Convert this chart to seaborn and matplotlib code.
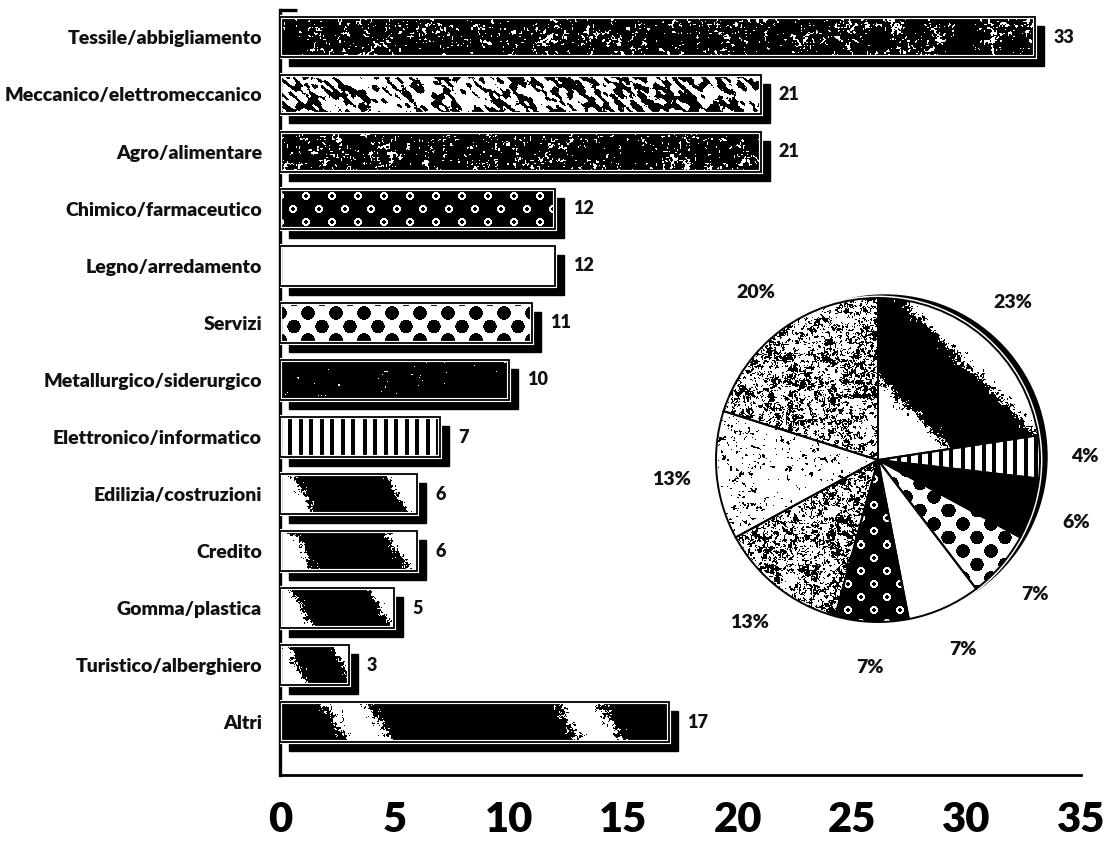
import numpy as np
import pandas as pd
import matplotlib
matplotlib.use("Agg")
import matplotlib.pyplot as plt
import matplotlib.patheffects as pe
import seaborn as sns
from matplotlib.transforms import ScaledTranslation
from matplotlib.patches import Circle

# ---------------------------------------------------------------- data
sectors = [
    "Tessile/abbigliamento",
    "Meccanico/elettromeccanico",
    "Agro/alimentare",
    "Chimico/farmaceutico",
    "Legno/arredamento",
    "Servizi",
    "Metallurgico/siderurgico",
    "Elettronico/informatico",
    "Edilizia/costruzioni",
    "Credito",
    "Gomma/plastica",
    "Turistico/alberghiero",
    "Altri",
]
counts = [33, 21, 21, 12, 12, 11, 10, 7, 6, 6, 5, 3, 17]
x_ticks = [0, 5, 10, 15, 20, 25, 30, 35]

# fill texture of every bar
bar_fill = ["speckle_dark", "blobs", "speckle_dark", "rings", "plain", "dots",
            "dark", "vstripes", "diag", "diag", "diag", "diag", "diag_long"]

# pie: the first eight sectors on their own, the smaller ones grouped together
n_single = 8
pie_names = sectors[:n_single] + ["Altri settori"]
pie_values = counts[:n_single] + [sum(counts[n_single:])]
pie_fill = ["speckle_light", "sparse", "speckle_mid", "rings", "plain", "dots",
            "solid", "vstripes", "diag_pie"]

# ---------------------------------------------------------------- textures
def _hash(ix, iy, seed):
    v = np.sin(ix * 12.9898 + iy * 78.233 + seed * 4.1414) * 43758.5453
    return v - np.floor(v)


def vnoise(x, y, seed):
    x0, y0 = np.floor(x), np.floor(y)
    fx, fy = x - x0, y - y0
    fx = fx * fx * (3 - 2 * fx)
    fy = fy * fy * (3 - 2 * fy)
    a = _hash(x0, y0, seed)
    b = _hash(x0 + 1, y0, seed)
    c = _hash(x0, y0 + 1, seed)
    d = _hash(x0 + 1, y0 + 1, seed)
    return (a * (1 - fx) * (1 - fy) + b * fx * (1 - fy)
            + c * (1 - fx) * fy + d * fx * fy)


def fbm(X, Y, seed, scales=(1.5, 4.0, 11.0), weights=(0.45, 0.35, 0.2)):
    out = np.zeros_like(X)
    for k, (s, w) in enumerate(zip(scales, weights)):
        out += w * vnoise(X / s, Y / s, seed + 7 * k)
    return out


def _grid_dist(X, Y, sx, sy, y0):
    Yr = Y - y0
    r = np.round(Yr / sy)
    off = (r % 2) * sx / 2
    cx = np.round((X - off) / sx) * sx + off
    cy = r * sy
    return np.hypot(X - cx, Yr - cy)


def _bands(t, lo, width, period):
    return ((t - lo) % period) >= width  # True = white


def texture(kind, X, Y, seed):
    """Grey-level image (1 = white, 0 = black) in pixel coordinates."""
    width_px = X.shape[1]
    if kind == "plain":
        return np.ones_like(X)
    if kind == "solid":
        return np.zeros_like(X)
    if kind == "speckle_dark":
        return (fbm(X, Y, seed) > 0.67).astype(float)
    if kind == "dark":
        return (fbm(X, Y, seed, scales=(1.0, 3.0, 9.0)) > 0.76).astype(float)
    if kind == "speckle_light":
        return (fbm(X, Y, seed, scales=(1.2, 3.5, 12.0)) < 0.54).astype(float)
    if kind == "speckle_mid":
        return (fbm(X, Y, seed, scales=(1.2, 3.5, 10.0)) < 0.53).astype(float)
    if kind == "sparse":
        return (fbm(X, Y, seed, scales=(1.0, 3.0, 8.0)) < 0.67).astype(float)
    if kind == "blobs":
        u, v = (X + 0.8 * Y) / 9.0, (X - 1.2 * Y) / 4.5
        n = 0.8 * vnoise(u, v, seed) + 0.2 * vnoise(X / 1.5, Y / 1.5, seed + 3)
        return (n < 0.54).astype(float)
    if kind == "rings":
        d = _grid_dist(X, Y, 26.0, 13.0, 7.0)
        return ((d > 2.0) & (d < 4.0)).astype(float)
    if kind == "dots":
        d = _grid_dist(X, Y, 28.0, 13.5, 10.0)
        return (d >= 6.8).astype(float)
    if kind == "vstripes":
        return (((X + 2.0) % 10.5) >= 3.8).astype(float)
    if kind == "diag":
        t = X - 0.6 * Y + 26 * (fbm(X, Y, seed, scales=(1.2, 3.0, 8.0)) - 0.5)
        lo, hi = 0.08 * width_px, 0.76 * width_px
        return _bands(t, lo, hi - lo, 1.12 * width_px).astype(float)
    if kind == "diag_long":
        t = X - 0.6 * Y + 40 * (fbm(X, Y, seed, scales=(1.2, 3.0, 8.0)) - 0.5)
        return _bands(t, 86.0, 190.0, 232.0).astype(float)
    if kind == "diag_pie":
        t = Y - X + 40 * (fbm(X, Y, seed, scales=(1.2, 3.0, 8.0)) - 0.5)
        return _bands(t, -22.0, 102.0, 260.0).astype(float)
    raise ValueError(kind)


def paint(ax, patch, kind, left, right, top, bottom, seed, zorder):
    """Fill a patch with a texture image clipped to its outline."""
    p0 = ax.transData.transform((left, top))
    p1 = ax.transData.transform((right, bottom))
    W = max(int(round(abs(p1[0] - p0[0]))), 1)
    H = max(int(round(abs(p1[1] - p0[1]))), 1)
    X, Y = np.meshgrid(np.arange(W) + 0.5, np.arange(H) + 0.5)
    img = texture(kind, X, Y, seed)
    ax.imshow(img, cmap="gray", vmin=0, vmax=1, origin="upper",
              extent=(left, right, bottom, top), aspect="auto",
              interpolation="nearest", clip_path=patch, zorder=zorder)


# ---------------------------------------------------------------- style
sns.set_style("white")
plt.rcParams["font.family"] = ["Lato", "DejaVu Sans"]
ink = "#111111"

W_PX, H_PX, DPI = 1108, 843, 100
fig = plt.figure(figsize=(W_PX / DPI, H_PX / DPI), dpi=DPI)
fig.patch.set_facecolor("white")

# ---------------------------------------------------------------- bar chart
ax = fig.add_axes([280 / W_PX, 1 - 775 / H_PX, 801 / W_PX, 765 / H_PX])
df = pd.DataFrame({"settore": sectors, "aziende": counts})
bar_h = 0.70

# drop shadows first, then the faces on top
sns.barplot(data=df, x="aziende", y="settore", orient="h", color="black",
            saturation=1, width=bar_h, errorbar=None, ax=ax)
n = len(sectors)
shadows = list(ax.patches[:n])
sns.barplot(data=df, x="aziende", y="settore", orient="h", color="white",
            saturation=1, width=bar_h, errorbar=None, edgecolor="black",
            linewidth=1.3, ax=ax)
faces = list(ax.patches[n:2 * n])

ax.set_xlim(0, 35)
ax.set_ylim(12.92, -0.48)

shift = ScaledTranslation(9 / DPI, -9 / DPI, fig.dpi_scale_trans)
for p in shadows:
    p.set_transform(ax.transData + shift)
    p.set_edgecolor("black")
    p.set_zorder(1)

halo = [pe.Stroke(linewidth=3.0, foreground="white"), pe.Normal()]
for i, (p, kind) in enumerate(zip(faces, bar_fill)):
    p.set_facecolor("none")
    p.set_zorder(3)
    p.set_path_effects(halo)
    x0, y0 = p.get_x(), p.get_y()
    paint(ax, p, kind, x0, x0 + p.get_width(), y0, y0 + p.get_height(),
          seed=11 * i + 1, zorder=2)

ax.set_xlim(0, 35)
ax.set_ylim(12.92, -0.48)

for i, v in enumerate(counts):
    ax.annotate(str(v), xy=(v, i), xytext=(13, 0), textcoords="offset points",
                va="center", ha="left", fontsize=13, fontweight="heavy",
                color=ink)

sns.despine(ax=ax, top=True, right=True)
ax.spines["left"].set_linewidth(2.4)
ax.spines["bottom"].set_linewidth(2.0)
ax.spines["left"].set_color("black")
ax.spines["bottom"].set_color("black")
ax.axhline(-0.48, xmin=0, xmax=17 / 801, color="black", lw=2.4,
           clip_on=False, solid_capstyle="butt")

ax.set_xticks(x_ticks)
ax.set_xticklabels([str(t) for t in x_ticks])
ax.tick_params(axis="x", direction="inout", length=13, width=1.8,
               pad=12, labelsize=30, colors="black")
for lab in ax.get_xticklabels():
    lab.set_fontweight("heavy")
ax.tick_params(axis="y", direction="out", length=2, width=1.2,
               pad=11, labelsize=14, colors=ink)
for lab in ax.get_yticklabels():
    lab.set_fontweight("heavy")
ax.set_xlabel("")
ax.set_ylabel("")
ax.grid(False)

# ---------------------------------------------------------------- pie chart
cx, cy, R = 878, 460, 162
half = 1.05 * R
ax2 = fig.add_axes([(cx - half) / W_PX, 1 - (cy + half) / H_PX,
                    2 * half / W_PX, 2 * half / H_PX])
wedges, _, pct_texts = ax2.pie(
    pie_values, startangle=90, counterclock=True,
    colors=["white"] * len(pie_values),
    wedgeprops=dict(edgecolor="black", linewidth=1.4),
    autopct="%.0f%%", pctdistance=1.28,
    textprops=dict(fontsize=14, fontweight="heavy", color=ink))
ax2.set_xlim(-1.05, 1.05)
ax2.set_ylim(-1.05, 1.05)
ax2.set_aspect("equal")

# offset black rim behind the pie, separated from it by a thin white ring
rim = Circle((0, 0), 1.0, facecolor="black", edgecolor="black", zorder=0.5,
             transform=ax2.transData + ScaledTranslation(7 / DPI, 3 / DPI,
                                                          fig.dpi_scale_trans))
ax2.add_patch(rim)
gap = Circle((0, 0), 1.0, facecolor="none", edgecolor="white", linewidth=3.5,
             zorder=0.6)
ax2.add_patch(gap)

for i, (w, kind) in enumerate(zip(wedges, pie_fill)):
    w.set_facecolor("none")
    w.set_zorder(3)
    ext = w.get_path().get_extents()
    paint(ax2, w, kind, ext.x0, ext.x1, ext.y1, ext.y0, seed=101 + 13 * i,
          zorder=2)

ax2.set_xlim(-1.05, 1.05)
ax2.set_ylim(-1.05, 1.05)
ax2.axis("off")

fig.savefig("out.png", dpi=DPI, facecolor="white")
